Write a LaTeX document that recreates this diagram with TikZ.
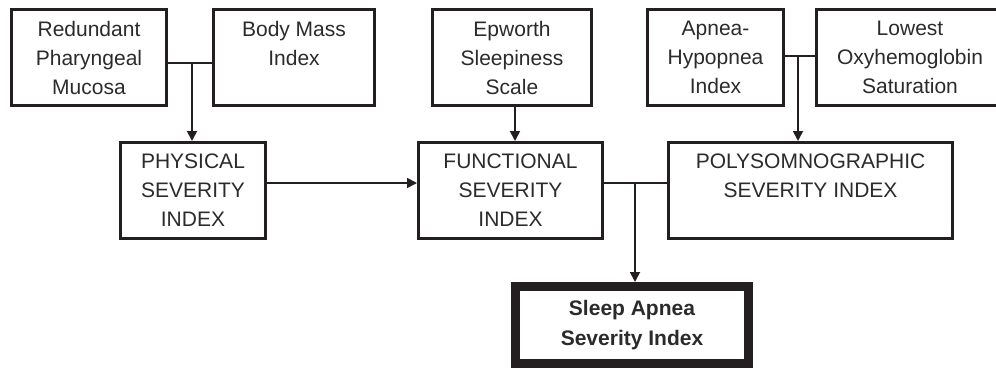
\documentclass[tikz,border=0pt]{standalone}
\usepackage{fontspec}
\setmainfont{Liberation Sans}
\usetikzlibrary{arrows.meta}
\definecolor{ink}{HTML}{231F20}
\definecolor{txt}{HTML}{2B2B2B}
\tikzset{
  box/.style={draw=ink, line width=3pt, align=center, inner sep=0pt,
    text=txt, font=\fontsize{21}{29}\selectfont},
  bigbox/.style={draw=ink, line width=9pt, align=center, inner sep=0pt,
    text=txt, font=\fontsize{21}{30}\selectfont\bfseries},
  joinline/.style={draw=ink, line width=2.6pt},
  arr/.style={draw=ink, line width=1.8pt, -{Triangle[width=10pt,length=10pt]}}
}
\begin{document}
\begin{tikzpicture}[x=1pt,y=-1pt]
\clip (0,0) rectangle (996,369);
\fill[white] (0,0) rectangle (996,369);
% top row
\node[box, minimum width=155pt, minimum height=96pt] (rpm) at (89,57.5) {Redundant\\Pharyngeal\\Mucosa};
\node[box, minimum width=161pt, minimum height=96pt] (bmi) at (294,57.5) {Body Mass\\Index\\\phantom{M}};
\node[box, minimum width=159pt, minimum height=96pt] (ess) at (512,57.5) {Epworth\\Sleepiness\\Scale};
\node[box, minimum width=136pt, minimum height=96pt] (ahi) at (715.5,57.5) {Apnea-\\Hypopnea\\Index};
\node[box, minimum width=187pt, minimum height=96pt] (los) at (910,57.5) {Lowest\\Oxyhemoglobin\\Saturation};
% middle row
\node[box, minimum width=145pt, minimum height=96pt] (psi) at (193,190.5) {PHYSICAL\\SEVERITY\\INDEX};
\node[box, minimum width=184pt, minimum height=96pt] (fsi) at (510.5,190.5) {FUNCTIONAL\\SEVERITY\\INDEX};
\node[box, minimum width=284pt, minimum height=96pt] (poly) at (810.5,190.5) {POLYSOMNOGRAPHIC\\SEVERITY INDEX\\\phantom{M}};
% bottom
\node[bigbox, minimum width=233pt, minimum height=77pt] (sasi) at (632,325) {Sleep Apnea\\Severity Index};
% junctions
\coordinate (j1) at (192,63);
\coordinate (j2) at (798,56);
\coordinate (j3) at (635,183);
\coordinate (ex) at (515,0);
% connectors
\draw[joinline] (rpm.east |- j1) -- (bmi.west |- j1);
\draw[arr] (j1) -- (j1 |- psi.north);
\draw[arr] (ex |- ess.south) -- (ex |- fsi.north);
\draw[joinline] (ahi.east |- j2) -- (los.west |- j2);
\draw[arr] (j2) -- (j2 |- poly.north);
\draw[arr] (psi.east |- j3) -- (fsi.west |- j3);
\draw[joinline] (fsi.east |- j3) -- (poly.west |- j3);
\draw[arr] (j3) -- (j3 |- sasi.north);
\end{tikzpicture}
\end{document}
